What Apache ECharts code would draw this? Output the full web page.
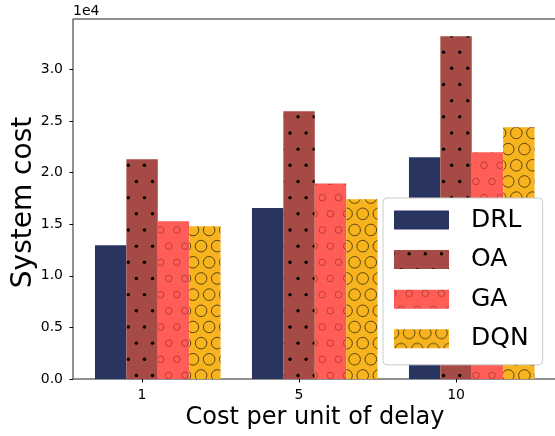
<!DOCTYPE html>
<html>
<head>
<meta charset="utf-8">
<script src="https://cdn.jsdelivr.net/npm/echarts@6/dist/echarts.min.js"></script>
<style>
  html, body { margin: 0; padding: 0; background: #fff; }
  #chart { width: 555px; height: 436px; }
</style>
</head>
<body>
<div id="chart"></div>
<script>
// ---- data ----
const categories = ['1', '5', '10'];
const seriesNames = ['DRL', 'OA', 'GA', 'DQN'];
const drlValues = [12970, 16580, 21490];
const oaValues = [21300, 25940, 33230];
const gaValues = [15300, 18940, 21970];
const dqnValues = [14810, 17420, 24390];
const categoryPositions = [0, 1, 2];

// ---- styling ----
const FONT = 'DejaVu Sans';
const colors = ['#2a3460', '#a54a44', '#ff5e56', '#f8b41f'];
const barWidth = 0.2;
const offsets = [-0.2, 0, 0.2, 0.4];

// hatch patterns (lattice shared across all bars)
const TILE = 97, STEP = TILE / 6, X0 = 31.3, Y0 = 68.3;
function makePattern(bg, kind, stroke) {
  const c = document.createElement('canvas');
  c.width = TILE; c.height = TILE;
  const ctx = c.getContext('2d');
  ctx.fillStyle = bg;
  ctx.fillRect(0, 0, TILE, TILE);
  for (let r = 0; r < 6; r++) {
    for (let k = 0; k < 6; k++) {
      const bx = X0 + (r % 2) * STEP / 2 + k * STEP;
      const by = Y0 + r * STEP;
      for (const dx of [-TILE, 0, TILE]) {
        for (const dy of [-TILE, 0, TILE]) {
          const x = (bx % TILE) + dx, y = (by % TILE) + dy;
          ctx.beginPath();
          if (kind === 'dot') {
            ctx.arc(x, y, 1.7, 0, Math.PI * 2);
            ctx.fillStyle = stroke; ctx.fill();
          } else {
            ctx.arc(x, y, kind === 'o' ? 3.3 : 5.8, 0, Math.PI * 2);
            ctx.strokeStyle = stroke; ctx.lineWidth = 1; ctx.stroke();
          }
        }
      }
    }
  }
  return { image: c, repeat: 'repeat' };
}
const fills = [
  colors[0],
  makePattern(colors[1], 'dot', '#000000'),
  makePattern(colors[2], 'o', '#b8403a'),
  makePattern(colors[3], 'O', '#5a4512')
];
const allValues = [drlValues, oaValues, gaValues, dqnValues];

function makeSeries(i) {
  return {
    name: seriesNames[i],
    type: 'custom',
    itemStyle: { color: fills[i] },
    data: allValues[i].map((v, idx) => [categoryPositions[idx], v]),
    renderItem: function (params, api) {
      const xc = api.value(0) + offsets[i];
      const y = api.value(1);
      const p0 = api.coord([xc - barWidth / 2, y]);
      const p1 = api.coord([xc + barWidth / 2, 0]);
      return {
        type: 'rect',
        shape: { x: p0[0], y: p0[1], width: p1[0] - p0[0], height: p1[1] - p0[1] },
        style: api.style()
      };
    }
  };
}

const chart = echarts.init(document.getElementById('chart'), null, { renderer: 'canvas' });
chart.setOption({
  animation: false,
  backgroundColor: '#fff',
  textStyle: { fontFamily: FONT },
  grid: {
    left: 73, top: 19, right: -2, bottom: 57,
    outerBoundsMode: 'none',
    containLabel: false,
    show: true, borderColor: '#222', borderWidth: 1, backgroundColor: 'transparent'
  },
  xAxis: {
    type: 'value',
    min: -0.44, max: 2.643,
    axisLine: { show: false, onZero: false },
    splitLine: { show: false },
    axisTick: { show: true, length: 3.5, lineStyle: { color: '#000', width: 1 }, customValues: categoryPositions },
    axisLabel: {
      customValues: categoryPositions,
      formatter: v => categories[Math.round(v)],
      fontSize: 14, color: '#000', margin: 9, fontFamily: FONT
    },
    name: 'Cost per unit of delay',
    nameLocation: 'middle',
    nameMoveOverlap: false,
    nameGap: 27,
    nameTextStyle: { fontSize: 24, color: '#000', fontFamily: FONT }
  },
  yAxis: {
    type: 'value',
    min: 0, max: 34890, interval: 5000,
    axisLine: { show: false, onZero: false },
    splitLine: { show: false },
    axisTick: { show: true, length: 3.5, lineStyle: { color: '#000', width: 1 } },
    axisLabel: {
      showMaxLabel: false,
      formatter: v => (v / 10000).toFixed(1),
      fontSize: 14, color: '#000', margin: 10, fontFamily: FONT
    },
    name: 'System cost',
    nameLocation: 'middle',
    nameMoveOverlap: false,
    nameRotate: 90,
    nameGap: 35,
    nameTextStyle: { fontSize: 28, color: '#000', fontFamily: FONT, padding: [0, 7, 0, 0] }
  },
  legend: {
    orient: 'vertical',
    left: 383, top: 198,
    icon: 'rect',
    itemWidth: 55, itemHeight: 19, itemGap: 14.6,
    padding: [9.5, 14, 13.5, 11],
    backgroundColor: '#fff',
    borderColor: '#cccccc', borderWidth: 1, borderRadius: 4,
    textStyle: { fontSize: 25, color: '#000', fontFamily: FONT, lineHeight: 25, padding: [0, 0, 0, 17] },
    data: seriesNames
  },
  graphic: [{
    type: 'text',
    left: 73, top: 4,
    style: { text: '1e4', fontSize: 14, fill: '#000', fontFamily: FONT }
  }],
  series: [0, 1, 2, 3].map(makeSeries)
});
</script>
</body>
</html>
